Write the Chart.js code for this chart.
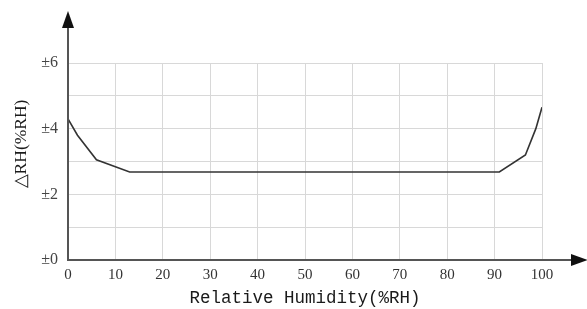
<!DOCTYPE html>
<html>
<head>
<meta charset="utf-8">
<script src="https://cdn.jsdelivr.net/npm/chart.js@4/dist/chart.umd.min.js"></script>
<style>
  html, body { margin: 0; padding: 0; background: #fff; }
  #wrap { width: 587px; height: 309px; }
</style>
</head>
<body>
<div id="wrap"><canvas id="rhChart"></canvas></div>
<script>
// Humidity (%RH) and tolerance (±%RH)
const humidity = [0, 2, 6, 13, 91, 96.5, 98.7, 100];
const tolerance = [4.3, 3.8, 3.05, 2.68, 2.68, 3.2, 4.0, 4.65];
const xTicks = [0, 10, 20, 30, 40, 50, 60, 70, 80, 90, 100];
const yLabelValues = [0, 2, 4, 6];

// Axis lines with arrow heads
const arrowAxes = {
  id: "arrowAxes",
  afterDraw(chart) {
    const { ctx, scales } = chart;
    const x0 = scales.x.getPixelForValue(0);
    const y0 = scales.y.getPixelForValue(0);
    ctx.save();
    ctx.strokeStyle = "#555";
    ctx.fillStyle = "#111";
    ctx.lineWidth = 2;
    ctx.beginPath();
    ctx.moveTo(x0, y0);
    ctx.lineTo(x0, 24);
    ctx.moveTo(x0 - 1, y0);
    ctx.lineTo(574, y0);
    ctx.stroke();
    // up arrow
    ctx.beginPath();
    ctx.moveTo(x0, 11);
    ctx.lineTo(x0 - 6, 28);
    ctx.lineTo(x0 + 6, 28);
    ctx.closePath();
    ctx.fill();
    // right arrow
    ctx.beginPath();
    ctx.moveTo(588, y0);
    ctx.lineTo(571, y0 - 6);
    ctx.lineTo(571, y0 + 6);
    ctx.closePath();
    ctx.fill();
    ctx.restore();
  }
};

new Chart(document.getElementById("rhChart"), {
  type: "line",
  data: {
    datasets: [{
      data: humidity.map((h, i) => ({ x: h, y: tolerance[i] })),
      borderColor: "#333",
      borderWidth: 1.6,
      pointRadius: 0,
      tension: 0,
      fill: false
    }]
  },
  options: {
    responsive: true,
    maintainAspectRatio: false,
    animation: false,
    layout: { padding: { top: 63, right: 45, left: 0, bottom: 0 } },
    plugins: { legend: { display: false }, tooltip: { enabled: false } },
    scales: {
      x: {
        type: "linear",
        min: 0,
        max: 100,
        afterBuildTicks: s => { s.ticks = xTicks.map(v => ({ value: v })); },
        afterFit: s => { s.height = 49; },
        grid: { color: "#d8d8d8", lineWidth: 1, drawTicks: false },
        border: { display: false },
        ticks: {
          padding: 6,
          color: "#333",
          font: { family: "Liberation Serif", size: 15 }
        },
        title: {
          display: true,
          text: "Relative Humidity(%RH)",
          color: "#1a1a1a",
          padding: { top: 0, bottom: 0 },
          font: { family: "Liberation Mono", size: 17.5 }
        }
      },
      y: {
        type: "linear",
        min: 0,
        max: 6,
        afterFit: s => { s.width = 68; },
        grid: { color: "#d8d8d8", lineWidth: 1, drawTicks: false },
        border: { display: false },
        ticks: {
          stepSize: 1,
          padding: 10,
          color: "#444",
          font: { family: "Liberation Serif", size: 16 },
          callback: v => yLabelValues.includes(v) ? "±" + v : ""
        },
        title: {
          display: true,
          text: "\u00a0\u00a0\u00a0\u00a0\u00a0\u00a0\u00a0\u00a0△RH(%RH)",
          color: "#1a1a1a",
          padding: { top: 11, bottom: 0 },
          font: { family: "Liberation Serif", size: 17.5 }
        }
      }
    }
  },
  plugins: [arrowAxes]
});
</script>
</body>
</html>
